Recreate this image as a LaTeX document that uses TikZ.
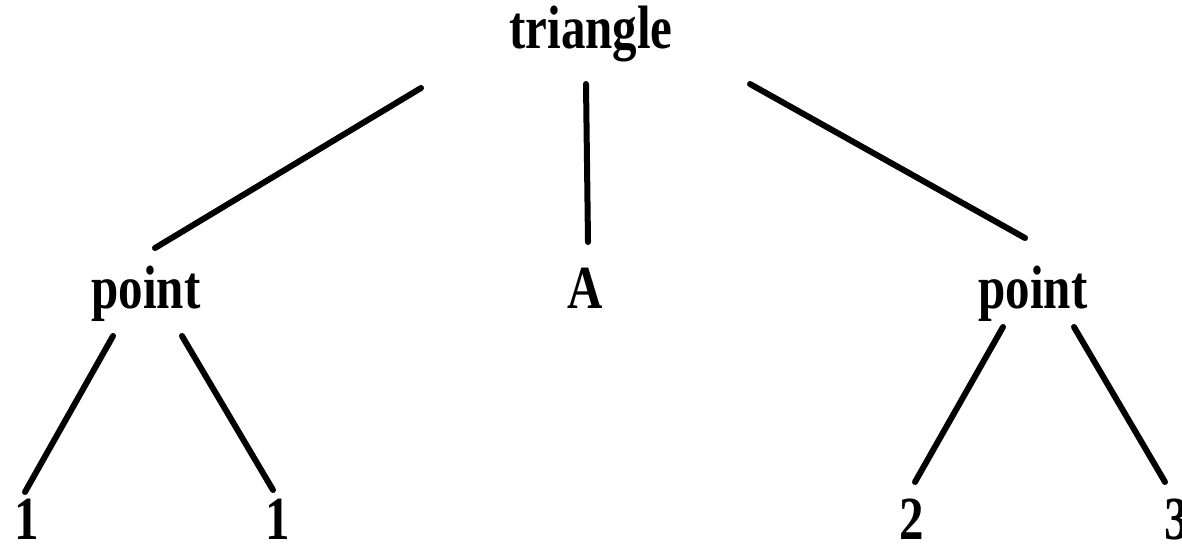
\documentclass[tikz,border=0pt]{standalone}
\usepackage{fontspec}
\usepackage{graphicx}
\setmainfont{Liberation Serif}
\usetikzlibrary{positioning}

\newcommand{\tallword}[1]{\scalebox{1}[1.25]{#1}}

\begin{document}
\begin{tikzpicture}[
    x=0.5pt, y=-0.5pt,
    word/.style={inner sep=0pt, anchor=base, font=\fontsize{24.5}{28}\selectfont\bfseries},
    branch/.style={line width=3pt, line cap=round}
]
\useasboundingbox (0,0) rectangle (1182,552);

% Nodes Row 1
\node (tri) [word] at (591,48) {\tallword{triangle}};

% Nodes Row 2
\node (lpoint) [word] at (146,308) {\tallword{point}};
\node (mid) [word] at (585,308) {\tallword{A}};
\node (rpoint) [word] at (1033,308) {\tallword{point}};

% Nodes Row 3
\node (leafa) [word] at (27,539) {\tallword{1}};
\node (leafb) [word] at (278,539) {\tallword{1}};
\node (leafc) [word] at (912,539) {\tallword{2}};
\node (leafd) [word] at (1177,539) {\tallword{3}};

% Paths
\draw [branch] ([shift={(-170,40)}]tri.base) -- ([shift={(9,-60)}]lpoint.base);
\draw [branch] ([shift={(-5,36)}]tri.base) -- ([shift={(3,-66)}]mid.base);
\draw [branch] ([shift={(159,36)}]tri.base) -- ([shift={(-8,-70)}]rpoint.base);
\draw [branch] ([shift={(-33,28)}]lpoint.base) -- ([shift={(-2,-47)}]leafa.base);
\draw [branch] ([shift={(36,28)}]lpoint.base) -- ([shift={(-5,-49)}]leafb.base);
\draw [branch] ([shift={(-30,19)}]rpoint.base) -- ([shift={(3,-57)}]leafc.base);
\draw [branch] ([shift={(41,19)}]rpoint.base) -- ([shift={(-12,-57)}]leafd.base);

\end{tikzpicture}
\end{document}
